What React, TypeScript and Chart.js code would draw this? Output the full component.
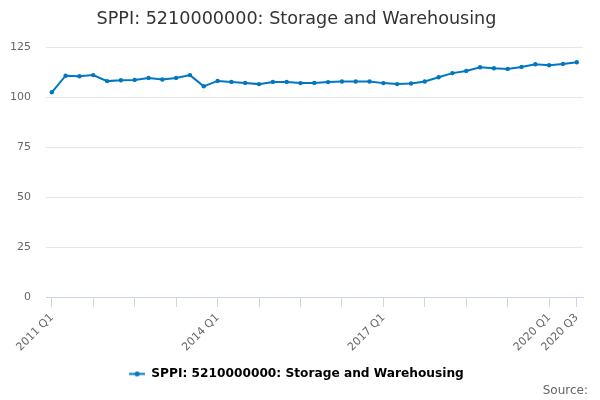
import { useEffect, useRef } from 'react';
import { Chart, registerables } from 'chart.js';

Chart.register(...registerables);

const quarters = [
  '2011 Q1', '2011 Q2', '2011 Q3', '2011 Q4',
  '2012 Q1', '2012 Q2', '2012 Q3', '2012 Q4',
  '2013 Q1', '2013 Q2', '2013 Q3', '2013 Q4',
  '2014 Q1', '2014 Q2', '2014 Q3', '2014 Q4',
  '2015 Q1', '2015 Q2', '2015 Q3', '2015 Q4',
  '2016 Q1', '2016 Q2', '2016 Q3', '2016 Q4',
  '2017 Q1', '2017 Q2', '2017 Q3', '2017 Q4',
  '2018 Q1', '2018 Q2', '2018 Q3', '2018 Q4',
  '2019 Q1', '2019 Q2', '2019 Q3', '2019 Q4',
  '2020 Q1', '2020 Q2', '2020 Q3',
];

const sppiValues = [
  102.4, 110.7, 110.4, 111.0, 108.0, 108.4, 108.6, 109.6, 108.8, 109.6,
  111.0, 105.4, 108.1, 107.6, 107.1, 106.5, 107.6, 107.6, 107.0, 107.1,
  107.5, 107.8, 107.8, 107.8, 107.0, 106.5, 106.8, 107.8, 109.9, 112.0,
  113.1, 114.9, 114.4, 114.1, 115.1, 116.4, 115.9, 116.6, 117.4,
];

// quarters that get a tick mark on the x axis, and those that also get a label
const tickQuarters = [
  '2011 Q1', '2011 Q4', '2012 Q3', '2013 Q2', '2014 Q1', '2014 Q4', '2015 Q3',
  '2016 Q2', '2017 Q1', '2017 Q4', '2018 Q3', '2019 Q2', '2020 Q1', '2020 Q3',
];
const labelQuarters = ['2011 Q1', '2014 Q1', '2017 Q1', '2020 Q1', '2020 Q3'];

const yTicks = [0, 25, 50, 75, 100, 125];

const seriesName = 'SPPI: 5210000000: Storage and Warehousing';
const lineColor = '#0077c0';

function legendMarker() {
  const c = document.createElement('canvas');
  c.width = 16;
  c.height = 7;
  const ctx = c.getContext('2d');
  if (ctx) {
    ctx.strokeStyle = lineColor;
    ctx.lineWidth = 2;
    ctx.beginPath();
    ctx.moveTo(0, 3.5);
    ctx.lineTo(16, 3.5);
    ctx.stroke();
    ctx.fillStyle = lineColor;
    ctx.beginPath();
    ctx.arc(8, 3.5, 2.5, 0, Math.PI * 2);
    ctx.fill();
  }
  return c;
}

const sourcePlugin = {
  id: 'sourceText',
  afterDraw(chart: Chart) {
    const ctx = chart.ctx;
    ctx.save();
    ctx.font = "12px 'DejaVu Sans', sans-serif";
    ctx.fillStyle = '#666666';
    ctx.textAlign = 'right';
    ctx.textBaseline = 'alphabetic';
    ctx.fillText('Source:', chart.width - 12, chart.height - 6.5);
    ctx.restore();
  },
};

export default function App() {
  const chartRef = useRef<HTMLCanvasElement>(null);
  const chartInstance = useRef<Chart | null>(null);

  useEffect(() => {
    if (!chartRef.current) return;
    if (chartInstance.current) {
      chartInstance.current.destroy();
    }

    Chart.defaults.font.family = "'DejaVu Sans', sans-serif";
    const marker = legendMarker();

    chartInstance.current = new Chart(chartRef.current, {
      type: 'line',
      data: {
        datasets: [
          {
            label: seriesName,
            data: sppiValues.map((v, i) => ({ x: i, y: v })),
            borderColor: lineColor,
            backgroundColor: lineColor,
            borderWidth: 2,
            pointRadius: 2.2,
            pointBackgroundColor: lineColor,
            pointBorderWidth: 0,
            tension: 0,
          },
        ],
      },
      options: {
        animation: false,
        responsive: true,
        maintainAspectRatio: false,
        layout: { padding: { left: 10, right: 17, top: 0, bottom: 10 } },
        plugins: {
          title: {
            display: true,
            text: seriesName,
            color: '#333333',
            font: { size: 17.6, weight: 'normal' },
            padding: { top: 9, bottom: 17 },
          },
          legend: {
            position: 'bottom',
            labels: {
              color: '#333333',
              font: { size: 12.2, weight: 'bold' },
              usePointStyle: true,
              pointStyleWidth: 16,
              boxHeight: 7,
              padding: 10,
              generateLabels: (chart: Chart) => [
                {
                  text: chart.data.datasets[0].label as string,
                  pointStyle: marker,
                  fillStyle: lineColor,
                  strokeStyle: lineColor,
                  lineWidth: 0,
                  datasetIndex: 0,
                  hidden: false,
                },
              ],
            },
          },
          tooltip: { enabled: false },
        },
        scales: {
          x: {
            type: 'linear',
            min: -0.42,
            max: quarters.length - 0.55,
            afterBuildTicks: (scale: any) => {
              scale.ticks = tickQuarters.map(q => ({ value: quarters.indexOf(q) }));
            },
            afterFit: (scale: any) => {
              // let the rotated first label hang past the plot's left edge
              scale.paddingLeft = 0;
              scale.paddingRight = 0;
            },
            grid: {
              drawOnChartArea: false,
              drawTicks: true,
              tickLength: 10,
              color: '#ccd6eb',
            },
            border: { color: '#ccd6eb' },
            ticks: {
              autoSkip: false,
              minRotation: 45,
              maxRotation: 45,
              padding: 4,
              color: '#666666',
              font: { size: 11 },
              callback: (value: number | string) => {
                const q = quarters[Number(value)];
                return labelQuarters.includes(q) ? q : '';
              },
            },
          },
          y: {
            min: 0,
            max: 125,
            afterBuildTicks: (scale: any) => {
              scale.ticks = yTicks.map(v => ({ value: v }));
            },
            afterFit: (scale: any) => {
              scale.width = 36;
            },
            grid: { color: '#e6e6e6', drawTicks: false },
            border: { display: false },
            ticks: {
              padding: 15,
              color: '#666666',
              font: { size: 11 },
            },
          },
        },
      },
      plugins: [sourcePlugin],
    });

    return () => {
      if (chartInstance.current) {
        chartInstance.current.destroy();
        chartInstance.current = null;
      }
    };
  }, []);

  return (
    <div style={{ position: 'fixed', left: 0, top: 0, width: 600, height: 400 }}>
      <canvas ref={chartRef} />
    </div>
  );
}
